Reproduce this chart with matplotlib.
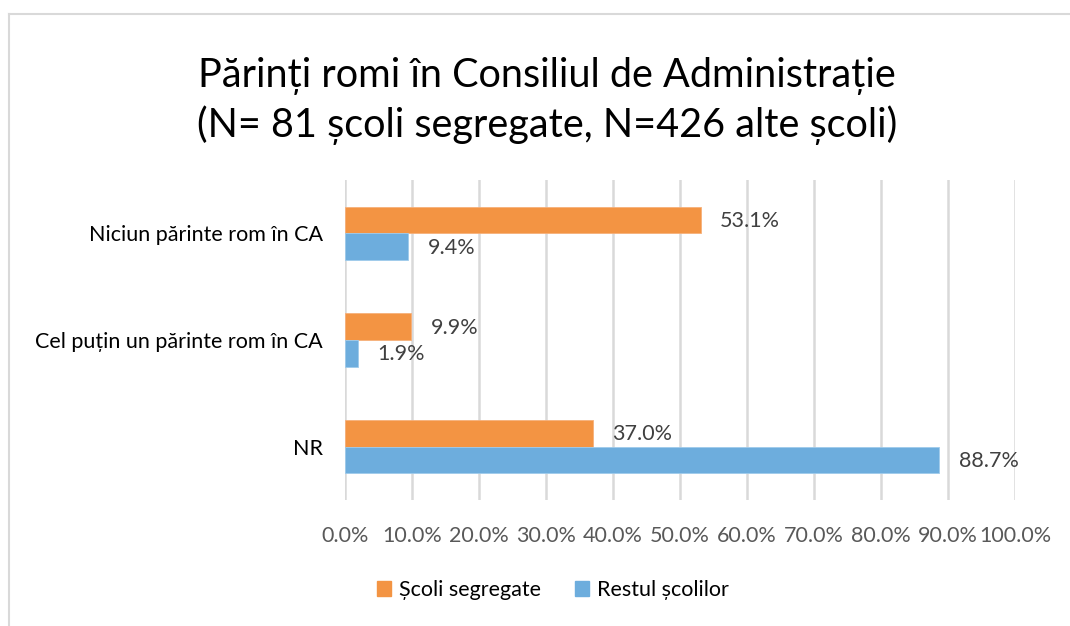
import matplotlib.pyplot as plt
import numpy as np
from matplotlib.lines import Line2D
from matplotlib.patches import Patch

plt.rcParams['font.family'] = ['Lato', 'DejaVu Sans']

categories = ['Niciun părinte rom în CA', 'Cel puțin un părinte rom în CA', 'NR']
segregate = [53.1, 9.9, 37.0]
restul = [9.4, 1.9, 88.7]
series_names = ['Școli segregate', 'Restul școlilor']
xticks = np.arange(0, 101, 10)

orange = '#F39443'
blue = '#6DADDD'

fig = plt.figure(figsize=(10.70, 6.26), dpi=100)
ax = fig.add_axes([345/1070, 1 - 500/626, 670/1070, 320/626])

y = np.arange(len(categories))[::-1]
h = 0.25
b1 = ax.barh(y + h/2, segregate, height=h, color=orange, edgecolor='#F6B07A', lw=0.6, zorder=3)
b2 = ax.barh(y - h/2, restul, height=h, color=blue, edgecolor='#9FCBEB', lw=0.6, zorder=3)

for bars, vals in ((b1, segregate), (b2, restul)):
    for bar, v in zip(bars, vals):
        ax.text(v + 2.9, bar.get_y() + bar.get_height()/2 - 0.01, f'{v:.1f}%',
                va='center', ha='left', fontsize=15.5, color='#404040')

ax.set_xlim(0, 100)
ax.set_ylim(-0.5, 2.5)
ax.set_xticks(xticks)
ax.set_xticklabels([f'{t:.1f}%' for t in xticks], fontsize=15.5, color='#595959')
ax.set_yticks(y)
ax.set_yticklabels(categories, fontsize=15.5, color='#000000')
ax.tick_params(axis='both', length=0)
ax.tick_params(axis='x', pad=19)
ax.tick_params(axis='y', pad=16)
ax.grid(axis='x', color='#D9D9D9', lw=1.8, zorder=0)
for s in ax.spines.values():
    s.set_visible(False)

fig.text(547/1070, 1 - 101/626, 'Părinți romi în Consiliul de Administrație\n(N= 81 școli segregate, N=426 alte școli)',
         ha='center', va='center', fontsize=28.5, linespacing=1.32, color='#000000')

handles = [Patch(color=orange), Patch(color=blue)]
fig.legend(handles, series_names, loc='center', bbox_to_anchor=(553/1070, 1 - 590/626),
           ncol=2, frameon=False, fontsize=15.5, handlelength=0.65, handleheight=0.65,
           handletextpad=0.35, columnspacing=1.6)

fig.add_artist(Line2D([9/1070, 9/1070], [0, 1 - 14/626], color='#D9D9D9', lw=1.5))
fig.add_artist(Line2D([9/1070, 1], [1 - 14/626, 1 - 14/626], color='#D9D9D9', lw=1.5))

fig.savefig('out.png', dpi=100, facecolor='white')
